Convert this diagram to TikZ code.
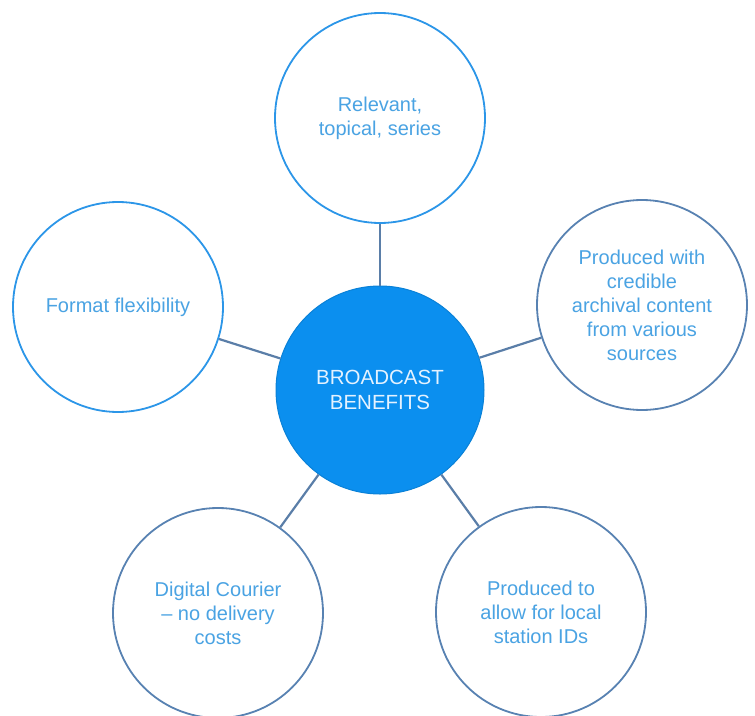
\documentclass[tikz,border=0pt]{standalone}
\usepackage{fontspec}
\setmainfont{Liberation Sans}
\definecolor{brightblue}{HTML}{2C96E8}
\definecolor{steelblue}{HTML}{5882B2}
\definecolor{linecol}{HTML}{5A7EA8}
\definecolor{centerblue}{HTML}{0B8FEF}
\definecolor{txtblue}{HTML}{4AA3E3}
\definecolor{centertxt}{HTML}{E4F2FF}
\begin{document}
\begin{tikzpicture}[x=1pt,y=-1pt,
  bub/.style={circle, minimum size=210pt, inner sep=0pt, line width=1.8pt, fill=white,
    text=txtblue, align=center, font=\fontsize{20}{24}\selectfont},
  brightbub/.style={bub, draw=brightblue},
  steelbub/.style={bub, draw=steelblue},
  hub/.style={circle, minimum size=208pt, inner sep=0pt, line width=1pt, fill=centerblue,
    draw=centerblue!90!black, text=centertxt, align=center, font=\fontsize{20.5}{25}\selectfont},
  conn/.style={draw=linecol, line width=2.2pt}]
\useasboundingbox (0,0) rectangle (755,715);
\node[hub] (c) at (380,390) {BROADCAST\\BENEFITS};
\node[brightbub] (top) at (380,118) {Relevant,\\topical, series};
\node[brightbub] (left) at (118,307) {Format flexibility};
\node[steelbub] (right) at (642,305) {Produced with\\credible\\archival content\\from various\\sources};
\node[steelbub] (bl) at (218,613) {Digital Courier\\– no delivery\\costs};
\node[steelbub] (br) at (541,612) {Produced to\\allow for local\\station IDs};
\draw[conn] (c) -- (top);
\draw[conn] (c) -- (left);
\draw[conn] (c) -- (right);
\draw[conn] (c) -- (bl);
\draw[conn] (c) -- (br);
\end{tikzpicture}
\end{document}
